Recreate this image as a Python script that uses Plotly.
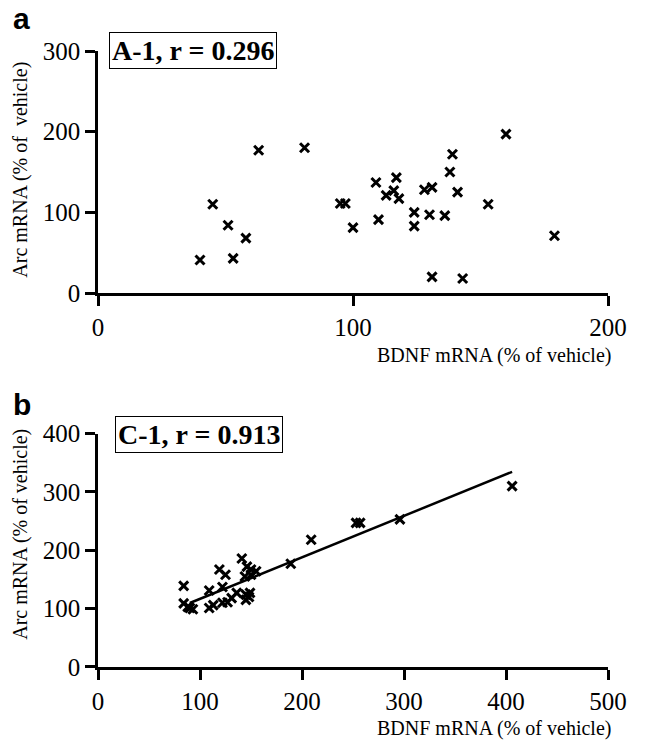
import numpy as np
import plotly.graph_objects as go

# Panel a: A-1
a_bdnf = [40, 45, 51, 53, 58, 63, 81, 95, 97, 100, 137, 160, 139, 138, 109, 117, 113, 116,
          118, 128, 131, 141, 153, 124, 124, 130, 136, 110, 179, 131, 143]
a_arc = [41, 110, 84, 43, 68, 177, 180, 111, 111, 81, 301, 197, 172, 150, 137, 143, 121, 127,
         117, 128, 131, 125, 110, 100, 83, 97, 96, 91, 71, 20, 18]

# Panel b: C-1
b_bdnf = [84, 84, 90, 93, 88, 109, 122, 109, 113, 122, 127, 131, 136, 145, 149, 145, 148,
          146, 150, 155, 150, 144, 141, 119, 125, 189, 209, 253, 257, 296, 406]
b_arc = [139, 109, 101, 99, 103, 131, 137, 101, 106, 110, 111, 118, 127, 124, 127, 115, 120,
         172, 167, 164, 158, 155, 186, 167, 158, 177, 218, 247, 247, 253, 310]

# Regression line
fit_slope = 0.711
fit_intercept = 45.7
fit_x = [90, 406]
fit_y = [fit_intercept + fit_slope * v for v in fit_x]

a_xticks = [0, 100, 200]
a_yticks = [0, 100, 200, 300]
b_xticks = [0, 100, 200, 300, 400, 500]
b_yticks = [0, 100, 200, 300, 400]

SERIF = "Liberation Serif, Times New Roman, serif"
SANS = "Liberation Sans, Arial, sans-serif"

fig = go.Figure()

marker = dict(symbol="x-thin", size=9, color="black", line=dict(width=3, color="black"))

fig.add_trace(go.Scatter(x=a_bdnf, y=a_arc, mode="markers", marker=marker,
                         xaxis="x", yaxis="y", showlegend=False, cliponaxis=False))
fig.add_trace(go.Scatter(x=b_bdnf, y=b_arc, mode="markers", marker=marker,
                         xaxis="x2", yaxis="y2", showlegend=False, cliponaxis=False))
fig.add_trace(go.Scatter(x=fit_x, y=fit_y, mode="lines", line=dict(color="black", width=2.5),
                         xaxis="x2", yaxis="y2", showlegend=False))

axis_common = dict(showgrid=False, zeroline=False, showline=True, linecolor="black", linewidth=2.5,
                   ticks="outside", ticklen=10, tickwidth=2.5, tickcolor="black",
                   tickfont=dict(family=SERIF, size=25, color="black"))

# page has an 8px body margin on each side
fig.update_layout(
    width=631, height=735,
    margin=dict(l=90, r=19, t=43, b=76),
    paper_bgcolor="white", plot_bgcolor="white",
    xaxis=dict(domain=[0, 1], range=[0, 200], tickvals=a_xticks, anchor="y", **axis_common),
    yaxis=dict(domain=[0.6071, 1.0], range=[0, 300], tickvals=a_yticks, anchor="x",
               ticklabelstandoff=0, **axis_common),
    xaxis2=dict(domain=[0, 1], range=[0, 500], tickvals=b_xticks, anchor="y2", **axis_common),
    yaxis2=dict(domain=[0, 0.379], range=[0, 400], tickvals=b_yticks, anchor="x2",
                ticklabelstandoff=0, **axis_common),
)

ann = []
# panel letters
ann.append(dict(text="<b>a</b>", x=-0.1705, y=1.052, xref="paper", yref="paper", xanchor="left",
                yanchor="middle", showarrow=False, font=dict(family=SANS, size=30, color="black")))
ann.append(dict(text="<b>b</b>", x=-0.1705, y=0.4267, xref="paper", yref="paper", xanchor="left",
                yanchor="middle", showarrow=False, font=dict(family=SANS, size=30, color="black")))
# boxed labels
ann.append(dict(text="<b>A-1, r = 0.296</b>", x=0.1858, y=1.0016, xref="paper", yref="paper",
                xanchor="center", yanchor="middle", showarrow=False, bordercolor="black",
                borderwidth=1, borderpad=2, bgcolor="white",
                font=dict(family=SERIF, size=28, color="black")))
ann.append(dict(text="<b>C-1, r = 0.913</b>", x=0.1973, y=0.378, xref="paper", yref="paper",
                xanchor="center", yanchor="middle", showarrow=False, bordercolor="black",
                borderwidth=1, borderpad=2, bgcolor="white",
                font=dict(family=SERIF, size=28, color="black")))
# axis titles
for yy in [0.5049, -0.1006]:
    ann.append(dict(text="BDNF mRNA (% of vehicle)", x=1.0096, y=yy, xref="paper", yref="paper",
                    xanchor="right", yanchor="middle", showarrow=False,
                    font=dict(family=SERIF, size=20, color="black")))
ann.append(dict(text="Arc mRNA (% of\u00a0 vehicle)", x=-0.1513, y=0.807, xref="paper", yref="paper",
                xanchor="center", yanchor="middle", textangle=-90, showarrow=False,
                font=dict(family=SERIF, size=20, color="black")))
ann.append(dict(text="Arc mRNA (% of vehicle)", x=-0.1513, y=0.216, xref="paper", yref="paper",
                xanchor="center", yanchor="middle", textangle=-90, showarrow=False,
                font=dict(family=SERIF, size=20, color="black")))
fig.update_layout(annotations=ann)

fig.write_html("out.html", config={"displayModeBar": False})
